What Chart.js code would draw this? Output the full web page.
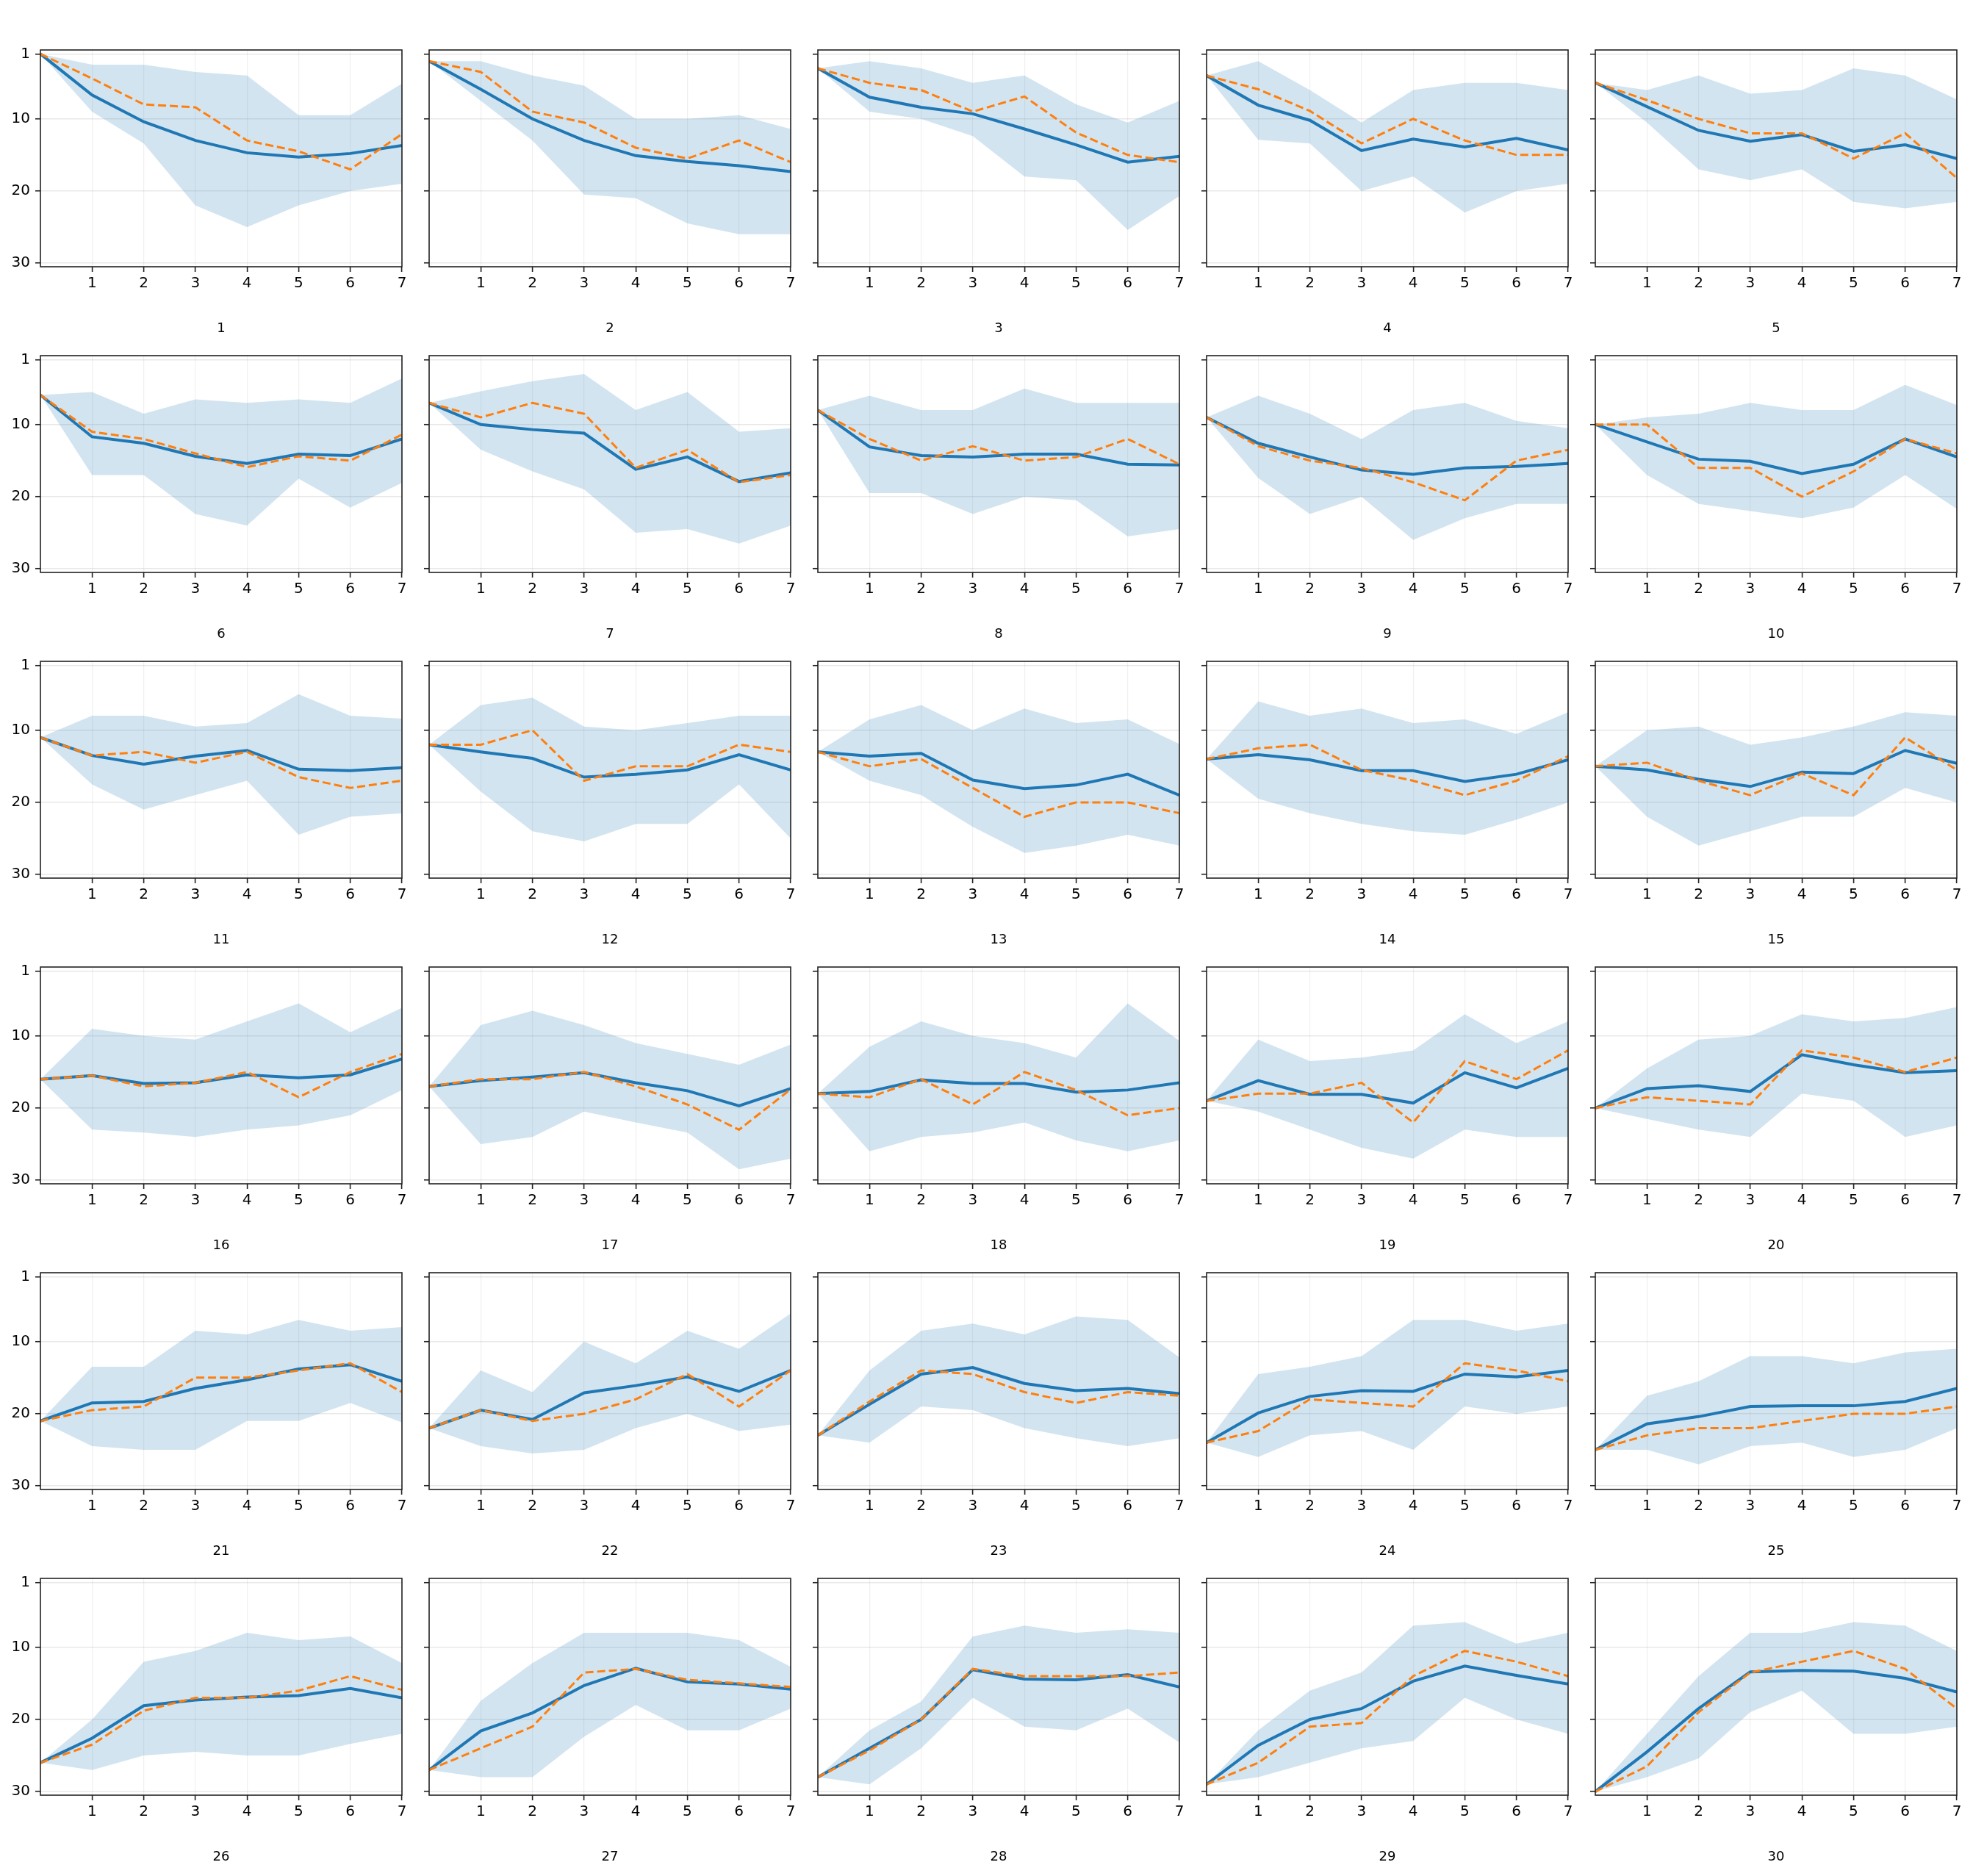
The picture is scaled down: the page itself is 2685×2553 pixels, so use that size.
<!DOCTYPE html>
<html>
<head>
<meta charset="utf-8">
<title>Rank trajectories</title>
<script src="https://cdn.jsdelivr.net/npm/chart.js@4.4.0/dist/chart.umd.min.js"></script>
<style>
  body { margin: 0; background: #fff; }
  #grid { position: relative; width: 2685px; height: 2553px; }
  #grid canvas { position: absolute; }
</style>
</head>
<body>
<div id="grid"></div>
<script>
const panelTitles = ['1','2','3','4','5','6','7','8','9','10','11','12','13','14','15',
  '16','17','18','19','20','21','22','23','24','25','26','27','28','29','30'];
const steps = [0, 1, 2, 3, 4, 5, 6, 7];
const xTickValues = [1, 2, 3, 4, 5, 6, 7];
const yTickValues = [1, 10, 20, 30];

// solid blue line
const meanRank = [
  [1, 6.7, 10.4, 13, 14.7, 15.3, 14.8, 13.7],
  [2, 5.9, 10, 13, 15.1, 15.9, 16.5, 17.3],
  [3, 7, 8.4, 9.3, 11.4, 13.6, 16, 15.2],
  [4, 8.1, 10.2, 14.4, 12.8, 13.9, 12.7, 14.3],
  [5, 8.3, 11.6, 13.1, 12.2, 14.5, 13.6, 15.5],
  [5.9, 11.7, 12.6, 14.4, 15.4, 14.1, 14.3, 12],
  [7, 10, 10.7, 11.2, 16.2, 14.5, 17.9, 16.7],
  [8, 13.1, 14.3, 14.5, 14.1, 14.1, 15.5, 15.6],
  [9, 12.6, 14.5, 16.3, 16.9, 16, 15.8, 15.4],
  [10, 12.4, 14.8, 15.1, 16.8, 15.5, 12, 14.5],
  [11, 13.5, 14.7, 13.6, 12.8, 15.4, 15.6, 15.2],
  [12, 13, 13.9, 16.5, 16.1, 15.5, 13.4, 15.5],
  [13, 13.6, 13.2, 16.9, 18.1, 17.6, 16.1, 19],
  [14, 13.4, 14.1, 15.6, 15.6, 17.1, 16.1, 14.1],
  [15, 15.5, 16.8, 17.8, 15.8, 16, 12.8, 14.6],
  [16, 15.5, 16.6, 16.5, 15.4, 15.8, 15.4, 13.2],
  [17, 16.2, 15.7, 15.1, 16.5, 17.6, 19.7, 17.3],
  [18, 17.7, 16.1, 16.6, 16.6, 17.8, 17.5, 16.5],
  [19, 16.2, 18.1, 18.1, 19.3, 15.1, 17.2, 14.5],
  [20, 17.3, 16.9, 17.7, 12.6, 14, 15.1, 14.8],
  [21, 18.5, 18.3, 16.5, 15.3, 13.8, 13.2, 15.5],
  [22, 19.5, 20.8, 17.1, 16.1, 14.9, 16.9, 14],
  [23, 18.7, 14.5, 13.6, 15.8, 16.8, 16.5, 17.2],
  [24, 19.9, 17.6, 16.8, 16.9, 14.5, 14.9, 14],
  [25, 21.4, 20.4, 19, 18.9, 18.9, 18.3, 16.5],
  [26, 22.6, 18.1, 17.3, 16.9, 16.7, 15.7, 17],
  [27, 21.6, 19.1, 15.3, 12.9, 14.8, 15.1, 15.8],
  [28, 24, 20, 13.1, 14.4, 14.5, 13.8, 15.5],
  [29, 23.6, 20, 18.5, 14.7, 12.6, 13.9, 15.1],
  [30, 24.5, 18.5, 13.4, 13.2, 13.3, 14.3, 16.2]
];

// dashed orange line
const dashedRank = [
  [1, 4.4, 8, 8.4, 13, 14.5, 17, 12.1],
  [2, 3.5, 9, 10.5, 14, 15.5, 13, 16],
  [3, 5, 6, 9, 6.9, 11.9, 15, 16],
  [4, 5.9, 8.9, 13.4, 10, 13, 15, 15],
  [5, 7.4, 10, 12, 12, 15.5, 12, 18.2],
  [5.9, 11, 12, 14, 15.9, 14.4, 15, 11.4],
  [7, 9, 7, 8.5, 16, 13.5, 18, 17],
  [8, 12, 15, 13, 15, 14.5, 12, 15.5],
  [9, 13, 15, 16, 18, 20.5, 15, 13.5],
  [10, 10, 16, 16, 20, 16.5, 12, 14],
  [11, 13.5, 13, 14.5, 13, 16.5, 18, 17],
  [12, 12, 10, 17, 15, 15, 12, 13],
  [13, 15, 14, 18, 22, 20, 20, 21.5],
  [14, 12.5, 12, 15.5, 17, 19, 17, 13.6],
  [15, 14.5, 17, 19, 16, 19, 11, 15.5],
  [16, 15.5, 17, 16.5, 15, 18.5, 15, 12.5],
  [17, 16, 16, 15, 17, 19.5, 23, 17.4],
  [18, 18.5, 16, 19.5, 15, 17.5, 21, 20],
  [19, 18, 18, 16.5, 22, 13.5, 16, 12],
  [20, 18.5, 19, 19.5, 12, 13, 15, 13],
  [21, 19.5, 19, 15, 15, 14, 13, 17],
  [22, 19.5, 21, 20, 18, 14.5, 19, 14],
  [23, 18.3, 14, 14.5, 17, 18.5, 17, 17.5],
  [24, 22.4, 18, 18.5, 19, 13, 14, 15.5],
  [25, 23, 22, 22, 21, 20, 20, 19],
  [26, 23.5, 18.8, 17, 17, 16, 14, 15.9],
  [27, 24, 21, 13.5, 13, 14.5, 15, 15.5],
  [28, 24.3, 20, 13, 14, 14, 14, 13.5],
  [29, 26, 21, 20.5, 14, 10.5, 12, 14],
  [30, 26.5, 19, 13.5, 12, 10.5, 13, 18.5]
];

// shaded band, upper edge (better ranks)
const bandTop = [
  [1, 2.5, 2.5, 3.5, 4, 9.5, 9.5, 5.1],
  [2, 2, 4, 5.4, 10, 10, 9.5, 11.4],
  [3, 2, 3, 5, 4, 8, 10.5, 7.5],
  [4, 2, 6, 10.5, 6, 5, 5, 6],
  [5, 6, 4, 6.5, 6, 3, 4, 7.3],
  [5.9, 5.5, 8.5, 6.5, 7, 6.5, 7, 3.6],
  [7, 5.4, 4, 3, 8, 5.5, 11, 10.5],
  [8, 6, 8, 8, 5, 7, 7, 7],
  [9, 6, 8.5, 12, 8, 7, 9.5, 10.5],
  [10, 9, 8.5, 7, 8, 8, 4.5, 7.3],
  [11, 8, 8, 9.5, 9, 5, 8, 8.4],
  [12, 6.5, 5.5, 9.5, 10, 9, 8, 8],
  [13, 8.5, 6.5, 10, 7, 9, 8.5, 11.9],
  [14, 6, 8, 7, 9, 8.5, 10.5, 7.5],
  [15, 10, 9.5, 12, 11, 9.5, 7.5, 8],
  [16, 9, 10, 10.5, 8, 5.5, 9.5, 6.1],
  [17, 8.5, 6.5, 8.5, 11, 12.5, 14, 11.2],
  [18, 11.5, 8, 10, 11, 13, 5.5, 10.7],
  [19, 10.5, 13.5, 13, 12, 7, 11, 8],
  [20, 14.5, 10.5, 10, 7, 8, 7.5, 6],
  [21, 13.5, 13.5, 8.5, 9, 7, 8.5, 8],
  [22, 14, 17, 10, 13, 8.5, 11, 6.1],
  [23, 14, 8.5, 7.5, 9, 6.5, 7, 12.2],
  [24, 14.5, 13.5, 12, 7, 7, 8.5, 7.5],
  [25, 17.5, 15.5, 12, 12, 13, 11.5, 11],
  [26, 20, 12, 10.5, 8, 9, 8.5, 12.2],
  [27, 17.4, 12.2, 8, 8, 8, 9, 12.7],
  [28, 21.5, 17.5, 8.5, 7, 8, 7.5, 8],
  [29, 21.5, 16, 13.5, 7, 6.5, 9.5, 8],
  [30, 22, 14, 8, 8, 6.5, 7, 10.5]
];

// shaded band, lower edge (worse ranks)
const bandBottom = [
  [1, 9, 13.4, 22, 25, 22, 20, 19],
  [2, 7.5, 13, 20.5, 21, 24.5, 26, 26],
  [3, 9, 10, 12.4, 18, 18.5, 25.4, 20.7],
  [4, 12.9, 13.4, 20, 18, 23, 20, 19],
  [5, 10.5, 17, 18.5, 17, 21.5, 22.4, 21.5],
  [5.9, 17, 17, 22.4, 24, 17.5, 21.5, 18.1],
  [7, 13.5, 16.5, 19, 25, 24.5, 26.5, 24],
  [8, 19.5, 19.5, 22.4, 20, 20.5, 25.5, 24.5],
  [9, 17.4, 22.4, 20, 26, 23, 21, 21],
  [10, 17, 21, 22, 23, 21.5, 17, 21.7],
  [11, 17.5, 21, 19, 17, 24.5, 22, 21.5],
  [12, 18.5, 24, 25.4, 23, 23, 17.5, 25],
  [13, 17, 19, 23.4, 27, 26, 24.5, 26],
  [14, 19.5, 21.5, 23, 24, 24.5, 22.4, 20],
  [15, 22, 26, 24, 22, 22, 18, 20],
  [16, 23, 23.4, 24, 23, 22.4, 21, 17.5],
  [17, 25, 24, 20.5, 22, 23.4, 28.5, 27],
  [18, 26, 24, 23.4, 22, 24.5, 26, 24.5],
  [19, 20.5, 23, 25.5, 27, 23, 24, 24],
  [20, 21.5, 23, 24, 18, 19, 24, 22.4],
  [21, 24.5, 25, 25, 21, 21, 18.5, 21.2],
  [22, 24.5, 25.5, 25, 22, 20, 22.4, 21.5],
  [23, 24, 19, 19.5, 22, 23.4, 24.5, 23.4],
  [24, 26, 23, 22.4, 25, 19, 20, 19],
  [25, 25, 27, 24.5, 24, 26, 25, 22],
  [26, 27, 25, 24.5, 25, 25, 23.4, 22],
  [27, 28, 28, 22.4, 18, 21.5, 21.5, 18.5],
  [28, 29, 24, 17, 21, 21.5, 18.5, 23.2],
  [29, 28, 26, 24, 23, 17, 20, 22],
  [30, 28, 25.4, 19, 16, 22, 22, 21]
];

// draws the full box round each plot
const frame = {
  id: 'frame',
  afterDatasetsDraw(chart) {
    const { ctx, chartArea: a } = chart;
    ctx.save();
    ctx.strokeStyle = '#222';
    ctx.lineWidth = 1.6;
    ctx.strokeRect(a.left, a.top, a.right - a.left, a.bottom - a.top);
    ctx.restore();
  }
};

function pts(arr) {
  return steps.map((x, i) => ({ x: x, y: arr[i] }));
}

const grid = document.getElementById('grid');
const cols = 5;

panelTitles.forEach((title, k) => {
  const col = k % cols, row = Math.floor(k / cols);
  const plotLeft = 55 + col * 529;
  const left = col === 0 ? 0 : plotLeft - 20;
  const right = col === cols - 1 ? 2685 : plotLeft + 529 - 20;
  const axisW = col === 0 ? 55 : 20;

  const canvas = document.createElement('canvas');
  canvas.width = right - left;
  canvas.height = 416;
  canvas.style.left = left + 'px';
  canvas.style.top = (48 + row * 416) + 'px';
  grid.appendChild(canvas);

  new Chart(canvas, {
    type: 'line',
    data: {
      datasets: [
        {
          data: pts(dashedRank[k]),
          borderColor: '#ff7f0e',
          borderWidth: 3,
          borderDash: [11, 5],
          pointRadius: 0,
          fill: false
        },
        {
          data: pts(meanRank[k]),
          borderColor: '#1f77b4',
          borderWidth: 4,
          pointRadius: 0,
          fill: false
        },
        {
          data: pts(bandTop[k]),
          borderWidth: 0,
          pointRadius: 0,
          fill: false
        },
        {
          data: pts(bandBottom[k]),
          borderWidth: 0,
          pointRadius: 0,
          backgroundColor: 'rgba(31,119,180,0.2)',
          fill: '-1'
        }
      ]
    },
    options: {
      responsive: false,
      animation: false,
      events: [],
      layout: { padding: { top: 20, right: right - plotLeft - 492, left: 0, bottom: 0 } },
      plugins: {
        legend: { display: false },
        tooltip: { enabled: false },
        title: {
          display: true,
          text: title,
          position: 'bottom',
          fullSize: false,
          color: '#000',
          font: { family: 'DejaVu Sans', size: 18, weight: 'normal' },
          padding: { top: 29, bottom: 5.4 }
        }
      },
      scales: {
        x: {
          type: 'linear',
          min: 0,
          max: 7,
          afterBuildTicks: (s) => { s.ticks = xTickValues.map(v => ({ value: v })); },
          afterFit: (s) => { s.height = 45; },
          ticks: {
            color: '#000',
            padding: 4,
            maxRotation: 0,
            font: { family: 'DejaVu Sans', size: 20 }
          },
          grid: {
            color: 'rgba(0,0,0,0.06)',
            lineWidth: 1.2,
            tickColor: '#222',
            tickWidth: 1.6,
            tickLength: 7
          },
          border: { display: false }
        },
        y: {
          type: 'linear',
          reverse: true,
          min: 0.45,
          max: 30.5,
          afterBuildTicks: (s) => { s.ticks = yTickValues.map(v => ({ value: v })); },
          afterFit: (s) => { s.width = axisW; },
          ticks: {
            color: '#000',
            padding: 7,
            font: { family: 'DejaVu Sans', size: 20 },
            callback: (v) => col === 0 ? String(v) : ''
          },
          grid: {
            color: 'rgba(0,0,0,0.09)',
            lineWidth: 1.5,
            tickColor: '#222',
            tickWidth: 1.6,
            tickLength: 7
          },
          border: { display: false }
        }
      }
    },
    plugins: [frame]
  });
});
</script>
</body>
</html>
